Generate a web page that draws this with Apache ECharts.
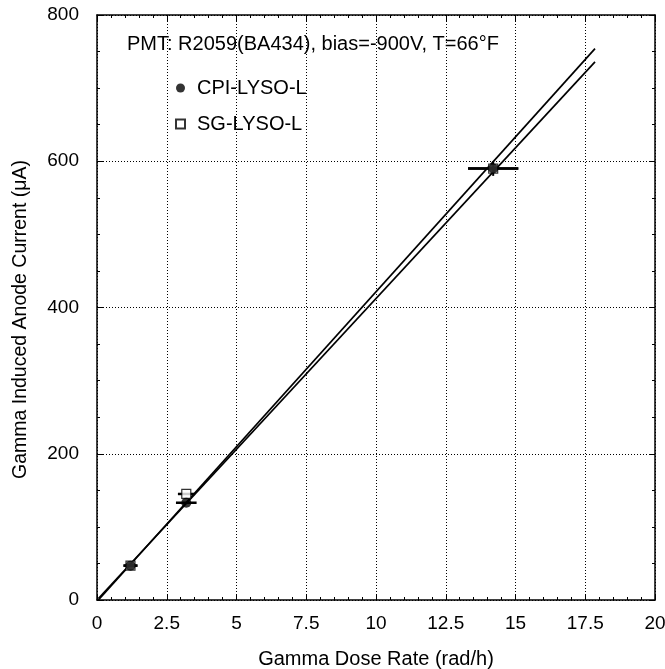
<!DOCTYPE html>
<html><head><meta charset="utf-8">
<script src="https://cdn.jsdelivr.net/npm/echarts@6/dist/echarts.min.js"></script>
<style>html,body{margin:0;background:#fff}#c{width:665px;height:669px}</style>
</head><body><div id="c"></div>
<script>
// Measured points: dose rate (rad/h) vs anode current (uA)
const cpiX = [1.2, 3.2, 14.2];
const cpiY = [47, 133, 590];
const cpiXErr = [0.25, 0.37, 0.9];
const cpiYErr = [0, 0, 10];
const sgX = [1.2, 3.2, 14.2];
const sgY = [47, 145, 590];
const sgXErr = [0.25, 0.3, 0.9];
// Linear fits
const fitX = [0.05, 17.85];
const fitUpperY = [0, 754];
const fitLowerY = [2, 736];
const xTickLabels = ['0', '2.5', '5', '7.5', '10', '12.5', '15', '17.5', '20'];
const yTickLabels = ['0', '200', '400', '600', '800'];

const FONT = 'Liberation Sans';
const chart = echarts.init(document.getElementById('c'));

function pts(xs, ys) { return xs.map((x, i) => [x, ys[i]]); }

function errBars(xs, ys, xe, ye) {
  return xs.map((x, i) => [x, ys[i], xe[i], ye ? ye[i] : 0]);
}

function renderErr(params, api) {
  const x = api.value(0), y = api.value(1), dx = api.value(2), dy = api.value(3);
  const children = [];
  const a = api.coord([x - dx, y]), b = api.coord([x + dx, y]);
  children.push({ type: 'line', shape: { x1: a[0], y1: a[1], x2: b[0], y2: b[1] },
    style: { stroke: '#000', lineWidth: 2.5 } });
  if (dy > 0) {
    const c = api.coord([x, y - dy]), d = api.coord([x, y + dy]);
    children.push({ type: 'line', shape: { x1: c[0], y1: c[1], x2: d[0], y2: d[1] },
      style: { stroke: '#000', lineWidth: 2 } });
  }
  return { type: 'group', children };
}

const baseX = {
  type: 'value', min: 0, max: 20, interval: 2.5,
  axisLine: { show: true, onZero: false, lineStyle: { color: '#000', width: 1.5 } },
  axisTick: { show: true, inside: true, length: 6, lineStyle: { color: '#000', width: 1 } },
  minorTick: { show: true, splitNumber: 5, length: 3, lineStyle: { color: '#000', width: 1 } },
};
const baseY = {
  type: 'value', min: 0, max: 800, interval: 200,
  axisLine: { show: true, onZero: false, lineStyle: { color: '#000', width: 1.5 } },
  axisTick: { show: true, inside: true, length: 6, lineStyle: { color: '#000', width: 1 } },
  minorTick: { show: true, splitNumber: 4, length: 3, lineStyle: { color: '#000', width: 1 } },
};

chart.setOption({
  animation: false,
  backgroundColor: '#fff',
  title: {
    text: 'PMT: R2059(BA434), bias=-900V, T=66°F',
    left: 122, top: 29,
    textStyle: { fontFamily: FONT, fontSize: 20, fontWeight: 'normal', color: '#000' }
  },
  legend: {
    orient: 'vertical', left: 170, top: 73, itemGap: 16,
    itemWidth: 9, itemHeight: 9,
    textStyle: { fontFamily: FONT, fontSize: 20, color: '#000', lineHeight: 20, padding: [0, 0, 0, 7] },
    data: [{ name: 'CPI-LYSO-L', icon: 'circle' }, { name: 'SG-LYSO-L', icon: 'rect' }]
  },
  grid: { left: 97, right: 10, top: 15, bottom: 69, containLabel: false, outerBoundsMode: 'none' },
  xAxis: [
    Object.assign({}, baseX, {
      position: 'bottom',
      name: 'Gamma Dose Rate (rad/h)', nameLocation: 'middle', nameGap: 49,
      nameTextStyle: { fontFamily: FONT, fontSize: 20, color: '#000' },
      axisLabel: { margin: 14, fontFamily: FONT, fontSize: 19, color: '#000',
        formatter: v => xTickLabels[Math.round(v / 2.5)] },
      splitLine: { show: true, lineStyle: { color: '#000', type: [1, 2], width: 1 } }
    }),
    Object.assign({}, baseX, { position: 'top', axisLabel: { show: false }, splitLine: { show: false } })
  ],
  yAxis: [
    Object.assign({}, baseY, {
      position: 'left',
      name: 'Gamma Induced Anode Current (μA)', nameLocation: 'middle', nameGap: 66,
      nameTextStyle: { fontFamily: FONT, fontSize: 19.5, color: '#000', padding: [0, 24, 0, 0] },
      axisLabel: { margin: 18, fontFamily: FONT, fontSize: 19, color: '#000',
        formatter: v => yTickLabels[Math.round(v / 200)] },
      splitLine: { show: true, lineStyle: { color: '#000', type: [1, 2], width: 1 } }
    }),
    Object.assign({}, baseY, { position: 'right', axisLabel: { show: false }, splitLine: { show: false } })
  ],
  series: [
    { name: 'fitUpper', type: 'line', data: pts(fitX, fitUpperY), symbol: 'none',
      lineStyle: { color: '#000', width: 1.7 }, z: 2 },
    { name: 'fitLower', type: 'line', data: pts(fitX, fitLowerY), symbol: 'none',
      lineStyle: { color: '#000', width: 1.7 }, z: 2 },
    { name: 'sgErr', type: 'custom', renderItem: renderErr, data: errBars(sgX, sgY, sgXErr), z: 3 },
    { name: 'cpiErr', type: 'custom', renderItem: renderErr, data: errBars(cpiX, cpiY, cpiXErr, cpiYErr), z: 3 },
    { name: 'SG-LYSO-L', type: 'scatter', data: pts(sgX, sgY), symbol: 'rect', symbolSize: 9,
      itemStyle: { color: '#fff', borderColor: '#000', borderWidth: 1.2 }, z: 4 },
    { name: 'CPI-LYSO-L', type: 'scatter', data: pts(cpiX, cpiY), symbol: 'circle', symbolSize: 10,
      itemStyle: { color: '#000' }, z: 5 }
  ]
});
</script></body></html>
